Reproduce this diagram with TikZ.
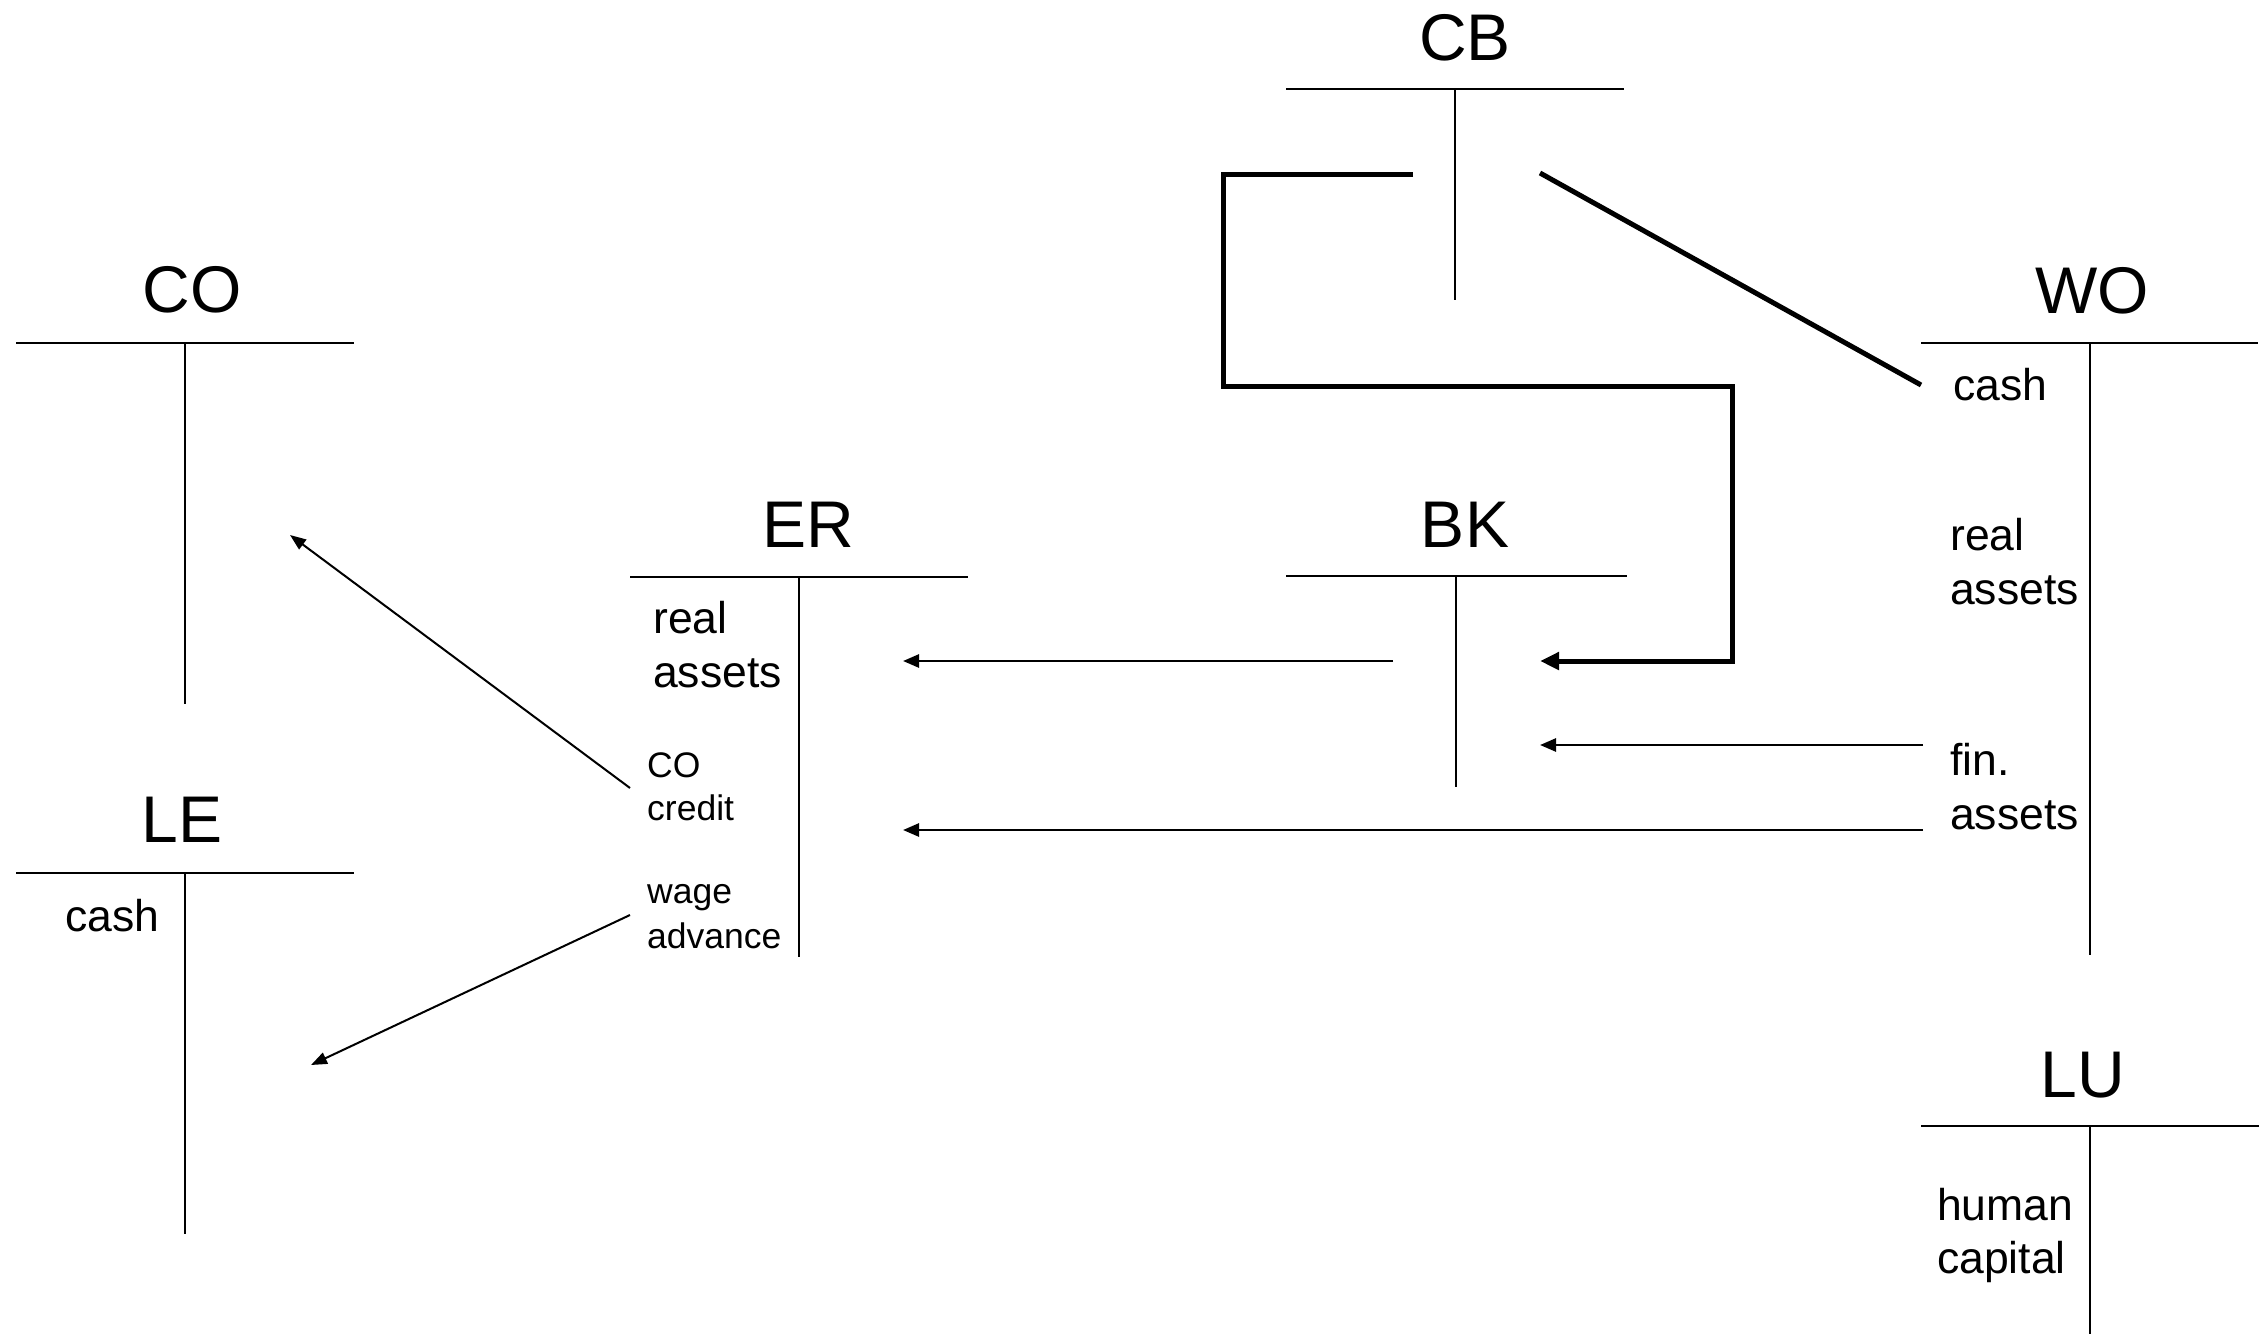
\documentclass[tikz,border=0pt]{standalone}
\usepackage{fontspec}
\setmainfont{Liberation Sans}
\usetikzlibrary{arrows.meta}
\begin{document}
\begin{tikzpicture}[x=1pt,y=-1pt,
  title/.style={font=\fontsize{66}{70}\selectfont, anchor=base, inner sep=0pt},
  lab/.style={font=\fontsize{44.5}{50}\selectfont, anchor=base west, inner sep=0pt},
  slab/.style={font=\fontsize{35.5}{40}\selectfont, anchor=base west, inner sep=0pt},
  tline/.style={line width=2pt},
  heavy/.style={line width=5pt},
  flow/.style={line width=2.6pt, -{Triangle[length=16pt,width=13pt]}},
  thinflow/.style={line width=2pt, -{Triangle[length=16pt,width=12pt]}},
  heavyflow/.style={line width=5pt, -{Triangle[length=19pt,width=17pt]}}]
\useasboundingbox (0,0) rectangle (2261,1333);
\fill[white] (0,0) rectangle (2261,1333);

% ---- T-accounts ----
% CB
\node[title] (CB) at (1465,60) {CB};
\coordinate (CBl) at (1286,89); \coordinate (CBr) at (1624,89);
\coordinate (CBt) at (1455,89); \coordinate (CBb) at (1455,300);
\draw[tline] (CBl) -- (CBr); \draw[tline] (CBt) -- (CBb);
% CO
\node[title] (CO) at (192,312) {CO};
\coordinate (COl) at (16,343); \coordinate (COr) at (354,343);
\coordinate (COt) at (185,343); \coordinate (COb) at (185,704);
\draw[tline] (COl) -- (COr); \draw[tline] (COt) -- (COb);
% WO
\node[title] (WO) at (2092,313) {WO};
\coordinate (WOl) at (1921,343); \coordinate (WOr) at (2258,343);
\coordinate (WOt) at (2090,343); \coordinate (WOb) at (2090,955);
\draw[tline] (WOl) -- (WOr); \draw[tline] (WOt) -- (WOb);
% ER
\node[title] (ER) at (808,547) {ER};
\coordinate (ERl) at (630,577); \coordinate (ERr) at (968,577);
\coordinate (ERt) at (799,577); \coordinate (ERb) at (799,957);
\draw[tline] (ERl) -- (ERr); \draw[tline] (ERt) -- (ERb);
% BK
\node[title] (BK) at (1465,547) {BK};
\coordinate (BKl) at (1286,576); \coordinate (BKr) at (1627,576);
\coordinate (BKt) at (1456,576); \coordinate (BKb) at (1456,787);
\draw[tline] (BKl) -- (BKr); \draw[tline] (BKt) -- (BKb);
% LE
\node[title] (LE) at (182,842) {LE};
\coordinate (LEl) at (16,873); \coordinate (LEr) at (354,873);
\coordinate (LEt) at (185,873); \coordinate (LEb) at (185,1234);
\draw[tline] (LEl) -- (LEr); \draw[tline] (LEt) -- (LEb);
% LU
\node[title] (LU) at (2083,1097) {LU};
\coordinate (LUl) at (1921,1126); \coordinate (LUr) at (2259,1126);
\coordinate (LUt) at (2090,1126); \coordinate (LUb) at (2090,1340);
\draw[tline] (LUl) -- (LUr); \draw[tline] (LUt) -- (LUb);

% ---- labels ----
\node[lab] (LEcash) at (65,931) {cash};
\node[lab] (ERreal) at (653,633) {real};
\node[lab] (ERassets) at (653,687) {assets};
\node[slab] (ERco) at (647,777) {CO};
\node[slab] (ERcredit) at (647,820) {credit};
\node[slab] (ERwage) at (647,903) {wage};
\node[slab] (ERadvance) at (647,948) {advance};
\node[lab] (WOcash) at (1953,400) {cash};
\node[lab] (WOreal) at (1950,550) {real};
\node[lab] (WOrassets) at (1950,604) {assets};
\node[lab] (WOfin) at (1950,775) {fin.};
\node[lab] (WOfassets) at (1950,829) {assets};
\node[lab] (LUhuman) at (1937,1220) {human};
\node[lab] (LUcapital) at (1937,1273) {capital};

% ---- connectors ----
\coordinate (cbL) at (1413,174);
\coordinate (k1) at (1223,174);
\coordinate (k2) at (1223,386);
\coordinate (k3) at (1732,386);
\coordinate (k4) at (1732,661);
\coordinate (bkTip1) at (1540,661);
\draw[heavyflow] (cbL) -- (k1) -- (k2) -- (k3) -- (k4) -- (bkTip1);

\coordinate (cbR) at (1540,173);
\coordinate (woCash) at (1921,385);
\draw[heavy] (cbR) -- (woCash);

\coordinate (bkOut) at (1393,661);
\coordinate (erTip1) at (903,661);
\draw[flow] (bkOut) -- (erTip1);

\coordinate (woFin) at (1923,745);
\coordinate (bkTip2) at (1540,745);
\draw[flow] (woFin) -- (bkTip2);

\coordinate (woAss) at (1923,830);
\coordinate (erTip2) at (903,830);
\draw[flow] (woAss) -- (erTip2);

\coordinate (erCo) at (630,788);
\coordinate (coTip) at (290,535);
\draw[thinflow] (erCo) -- (coTip);

\coordinate (erWage) at (630,915);
\coordinate (leTip) at (311,1065);
\draw[thinflow] (erWage) -- (leTip);
\end{tikzpicture}
\end{document}
